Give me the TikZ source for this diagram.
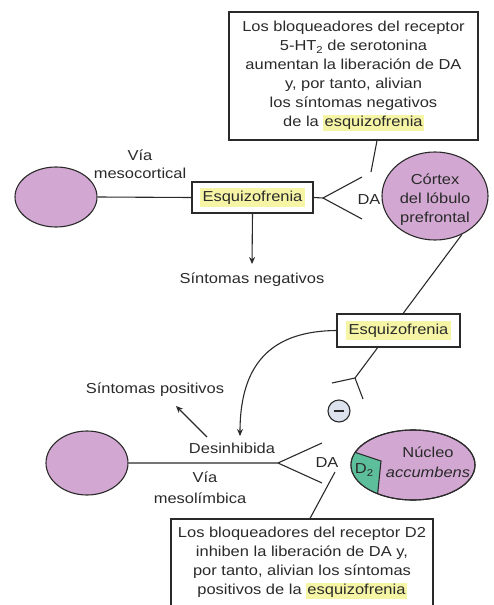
\documentclass[tikz,border=0pt]{standalone}
\usepackage{fontspec}
\setmainfont[FakeStretch=1.14]{Liberation Sans}
\usetikzlibrary{shapes.geometric,arrows.meta,calc}
\definecolor{lila}{HTML}{D2A8D2}
\definecolor{dgreen}{HTML}{5DBE9C}
\definecolor{hly}{HTML}{F6F5A6}
\definecolor{ink}{HTML}{2A2A2A}
\definecolor{minusfill}{HTML}{DCE3EE}
\newcommand{\hlw}[1]{{\setlength{\fboxsep}{1.2pt}\colorbox{hly}{#1}}}
\newcommand{\hlbig}[1]{{\setlength{\fboxsep}{3pt}\colorbox{hly}{#1}}}
\newcommand{\subtwo}{\raisebox{-0.35ex}{\fontsize{10}{10}\selectfont 2}}
\begin{document}
\begin{tikzpicture}[x=1bp,y=-1bp,
  every node/.style={text=ink,font=\fontsize{14.5}{19}\selectfont},
  cell/.style={ellipse,draw=ink,line width=1.1pt,fill=lila,inner sep=0pt},
  tagbox/.style={draw=ink,line width=1.2pt,fill=white,inner sep=0pt},
  lbl/.style={inner sep=0pt,align=center},
  wire/.style={draw=ink,line width=1.1pt},
  arr/.style={wire,-{Stealth[length=7bp,width=6bp]}}]
\useasboundingbox (0,0) rectangle (494,605);
\clip (0,0) rectangle (494,605);

% top explanation box
\node[tagbox,minimum width=249bp,minimum height=128bp,align=center] (topbox) at (353.5,76)
  {Los bloqueadores del receptor\\5-HT\subtwo{} de serotonina\\aumentan la liberación de DA\\y, por tanto, alivian\\los síntomas negativos\\de la \hlw{esquizofrenia}};
\coordinate (t1) at (371,172);
\draw[wire] ([xshift=23.5bp]topbox.south) -- (t1);

% mesocortical pathway
\node[cell,minimum width=82bp,minimum height=60bp] (mc) at (56,197) {};
\node[tagbox,minimum width=121bp,minimum height=31bp] (esq1) at (252.5,197.5) {\hlbig{Esquizofrenia}};
\draw[wire] (mc.east) -- (esq1.west);
\node[lbl] (via1) at (140,155) {Vía};
\node[lbl] (meso1) at (140,173) {mesocortical};
\coordinate (f1) at (323,198);
\coordinate (f1a) at (362,177);
\coordinate (f1b) at (362,219);
\draw[wire] (esq1.east) -- (f1) -- (f1a);
\draw[wire] (f1) -- (f1b);
\node[lbl] (da1) at (369,200) {DA};
\node[cell,minimum width=106bp,minimum height=88bp] (cx) at (435,196) {};
\node[lbl] (cxt) at (435,200) {Córtex\\del lóbulo\\prefrontal};
\coordinate (negtip) at (252,264);
\draw[arr] (esq1.south) -- (negtip);
\node[lbl] (neg) at (252,280) {Síntomas negativos};

% cortex to accumbens inhibitory path
\coordinate (f2) at (355,378);
\coordinate (f2a) at (332,383);
\coordinate (f2b) at (363,399);
\draw[wire] (cx.-55) -- (f2) -- (f2a);
\draw[wire] (f2) -- (f2b);
\node[tagbox,minimum width=123bp,minimum height=33bp] (esq2) at (398.5,330.5) {\hlbig{Esquizofrenia}};
\node[circle,draw=ink,line width=1.1pt,fill=minusfill,minimum size=22bp,inner sep=0pt] (minus) at (339,411) {};
\draw[ink,line width=2.4pt] ([xshift=-5bp]minus.center) -- ([xshift=5bp]minus.center);

% curved arrow
\coordinate (cv) at (240,436);
\draw[arr] (esq2.west) .. controls (275,331) and (240,360) .. (cv);

% positive symptoms
\node[lbl] (pos) at (155,390) {Síntomas positivos};
\coordinate (pa) at (207,437);
\coordinate (pb) at (176,406);
\draw[arr] (pa) -- (pb);

% mesolimbic pathway
\node[cell,minimum width=82bp,minimum height=64bp] (ml) at (87,463) {};
\coordinate (f3) at (278,463);
\coordinate (f3a) at (322,443);
\coordinate (f3b) at (322,483);
\draw[wire] (ml.east) -- (f3) -- (f3a);
\draw[wire] (f3) -- (f3b);
\node[lbl] (des) at (232,448) {Desinhibida};
\node[lbl] (da2) at (327,463) {DA};
\node[lbl] (via2) at (205,477) {Vía};
\node[lbl] (meso2) at (200,498) {mesolímbica};

% nucleus accumbens
\node[cell,minimum width=124bp,minimum height=70bp] (nac) at (413,465) {};
\begin{scope}
  \clip (413,465) ellipse [x radius=62, y radius=35];
  \fill[dgreen] (330,430) -- (330,444) -- (381,461) -- (376,510) -- (330,510) -- cycle;
  \draw[wire] (330,444) -- (381,461) -- (376,510);
\end{scope}
\draw[ink,line width=1.1pt] (413,465) ellipse [x radius=62, y radius=35];
\node[lbl] (d2) at (364,470) {D\subtwo};
\node[lbl] (nuc) at (428,452) {Núcleo};
\node[lbl] (acc) at (428,472) {\itshape accumbens};

% bottom explanation box
\node[tagbox,minimum width=262bp,minimum height=101bp] (bbox) at (302,569.5) {};
\node[lbl] (bboxt) at (302,563) {Los bloqueadores del receptor D2\\inhiben la liberación de DA y,\\por tanto, alivian los síntomas\\positivos de la \hlw{esquizofrenia}};
\coordinate (d2l) at (335,472);
\draw[wire] (d2l) -- ([xshift=8bp]bbox.north);
\end{tikzpicture}
\end{document}
